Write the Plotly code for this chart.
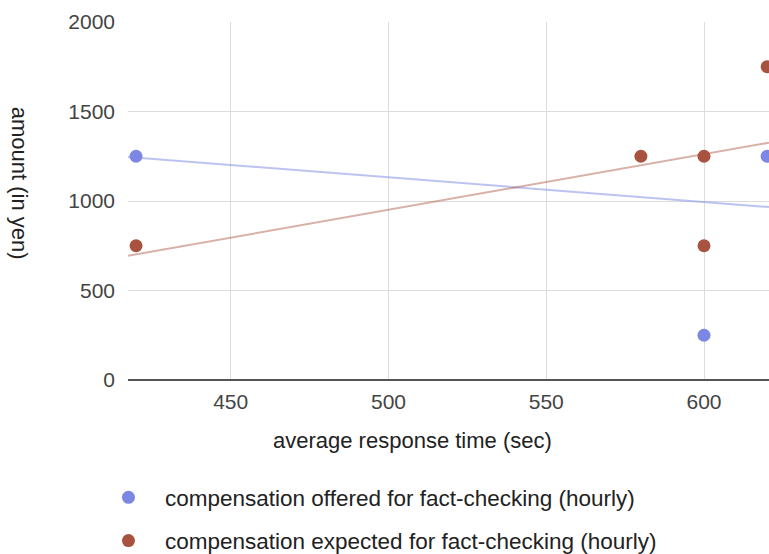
import plotly.graph_objects as go

# Data
offered_x = [420, 600, 620]
offered_y = [1250, 250, 1250]
expected_x = [420, 580, 600, 600, 620]
expected_y = [750, 1250, 1250, 750, 1750]
trend_x = [417.45, 620.6]
offered_trend = [1246, 966]
expected_trend = [694, 1326]
x_ticks = [450, 500, 550, 600]
y_ticks = [0, 500, 1000, 1500, 2000]

blue = "#7b87e2"
brown = "#a8533f"
FONT = "Liberation Sans, Arial, sans-serif"

fig = go.Figure()
fig.add_trace(go.Scatter(x=trend_x, y=offered_trend, mode="lines",
                         line=dict(color="rgba(123,135,226,0.5)", width=2),
                         showlegend=False, hoverinfo="skip"))
fig.add_trace(go.Scatter(x=trend_x, y=expected_trend, mode="lines",
                         line=dict(color="rgba(168,83,63,0.45)", width=2),
                         showlegend=False, hoverinfo="skip"))
fig.add_trace(go.Scatter(x=offered_x, y=offered_y, mode="markers",
                         marker=dict(color=blue, size=13),
                         name="compensation offered for fact-checking (hourly)",
                         legendgroup="a"))
fig.add_trace(go.Scatter(x=expected_x, y=expected_y, mode="markers",
                         marker=dict(color=brown, size=13),
                         name="compensation expected for fact-checking (hourly)",
                         legendgroup="b"))

fig.update_layout(
    width=769, height=554,
    margin=dict(l=128, r=0, t=22, b=174, autoexpand=False),
    plot_bgcolor="white", paper_bgcolor="white",
    font=dict(family=FONT, size=22, color="#222"),
    xaxis=dict(range=[417.45, 620.6], tickvals=x_ticks, showgrid=True,
               gridcolor="#dcdcdc", gridwidth=1, zeroline=False,
               showline=False, ticks="", ticklabelstandoff=7,
               tickfont=dict(size=21, color="#444")),
    yaxis=dict(range=[0, 2000], tickvals=y_ticks, showgrid=True,
               gridcolor="#dcdcdc", gridwidth=1, zeroline=True,
               zerolinecolor="#555", zerolinewidth=2, showline=False,
               ticks="", ticklabelstandoff=12, tickfont=dict(size=21, color="#444")),
    legend=dict(orientation="v", xref="container", yref="container",
                x=0.1196, xanchor="left", y=0.1405, yanchor="top",
                traceorder="grouped", tracegroupgap=11, itemwidth=63,
                font=dict(size=22.5, color="#222"), bgcolor="rgba(0,0,0,0)"),
    annotations=[
        dict(text="amount (in yen)", textangle=90, xref="paper", yref="paper",
             x=-0.168, y=0.55, xanchor="center", yanchor="middle",
             showarrow=False, font=dict(size=22, color="#222")),
        dict(text="average response time (sec)", xref="paper", yref="paper",
             x=(412 - 128) / 641, y=-60 / 358, xanchor="center", yanchor="middle",
             showarrow=False, font=dict(size=22, color="#222")),
    ],
)

fig.write_html("out.html")
